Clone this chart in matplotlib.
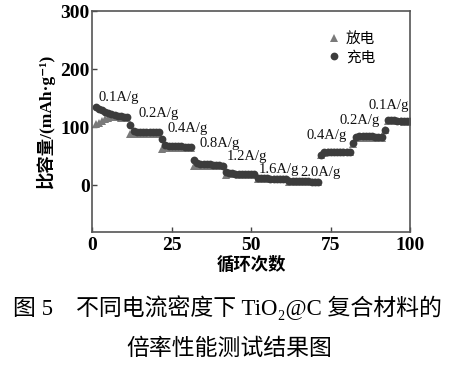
import numpy as np
import matplotlib
matplotlib.use('Agg')
from matplotlib import pyplot as plt

fams = ['Liberation Serif', 'Noto Sans CJK SC', 'DejaVu Sans']
plt.rcParams['font.family'] = fams

########
# DATA #
########

cycles = np.arange(1, 101)

# charge capacity (mAh/g), one list per current-density step
charge_segs = [
    [134, 132, 129, 126, 124, 122, 121, 120, 119, 118, 117],   # 0.1 A/g
    [103, 93, 92, 92, 91, 91, 91, 91, 91, 91],                 # 0.2
    [79, 69, 68, 68, 67, 67, 67, 66, 66, 66],                  # 0.4
    [44, 38, 37, 37, 36, 36, 35, 35, 35, 34],                  # 0.8
    [23, 21, 21, 20, 20, 20, 20, 19, 19, 19],                  # 1.2
    [13, 12, 12, 12, 11, 11, 11, 11, 11, 10],                  # 1.6
    [8, 8, 7, 7, 7, 7, 7, 6, 6, 6],                            # 2.0
    [53, 57, 58, 58, 58, 58, 58, 58, 58, 58],                  # 0.4
    [72, 83, 84, 84, 84, 84, 84, 83, 83, 83],                  # 0.2
    [96, 112, 112, 112, 111, 111, 111, 110, 110],              # 0.1
]
discharge_segs = [
    [106, 108, 111, 114, 116, 117, 117, 117, 116, 116, 116],
    [88, 89, 89, 89, 89, 89, 89, 89, 89, 89],
    [63, 65, 65, 65, 65, 64, 64, 64, 64, 64],
    [33, 34, 34, 34, 34, 33, 33, 33, 33, 33],
    [18, 19, 19, 19, 18, 18, 18, 18, 18, 18],
    [11, 11, 11, 11, 11, 10, 10, 10, 10, 10],
    [6, 6, 6, 6, 6, 6, 6, 5, 5, 5],
    [52, 56, 57, 57, 57, 57, 57, 57, 57, 57],
    [71, 82, 82, 82, 82, 82, 82, 82, 82, 82],
    [95, 110, 110, 110, 110, 110, 109, 109, 109],
]
charge = np.concatenate(charge_segs)
discharge = np.concatenate(discharge_segs)

rate_labels = ['0.1A/g', '0.2A/g', '0.4A/g', '0.8A/g', '1.2A/g',
               '1.6A/g', '2.0A/g', '0.4A/g', '0.2A/g', '0.1A/g']
label_x = [1.8, 14.5, 23.5, 33.6, 42.2, 52.2, 65.3, 67.5, 77.7, 87.0]
label_y = [152, 124, 98, 72, 50, 27, 22, 86, 111, 137]

########
# PLOT #
########

fig = plt.figure(figsize=(4.64, 3.69), dpi=100)
ax = fig.add_axes([0.199, 0.372, 0.685, 0.598])

ax.plot(cycles, discharge, '^', color='#7a7a7a', ms=5.6, mew=0, label='放电')
ax.plot(cycles, charge, 'o', color='#3c3c3c', ms=5.6, mew=0, label='充电')

for t, x, y in zip(rate_labels, label_x, label_y):
    ax.text(x, y, t, fontsize=10.5, ha='left', va='center', color='#111111')

ax.set_xlim(0, 100)
ax.set_ylim(-80, 300)
ax.set_xticks([0, 25, 50, 75, 100])
ax.set_yticks([0, 100, 200, 300])
ax.tick_params(direction='in', length=3.5, width=1, color='#444444',
               labelsize=14, pad=2, top=False, right=False)
ax.tick_params(axis='x', pad=4)
for lab in ax.get_xticklabels() + ax.get_yticklabels():
    lab.set_fontweight('bold')
for sp in ax.spines.values():
    sp.set_color('#555555')
    sp.set_linewidth(1.2)

ax.set_xlabel('循环次数', fontsize=12.5, fontweight='bold',
              family=['Noto Sans CJK SC'], labelpad=1)
ax.set_ylabel('比容量/(mAh·g⁻¹)', fontsize=12.5, fontweight='bold',
              family=fams, labelpad=4)

leg = ax.legend(loc='upper left', bbox_to_anchor=(0.69, 0.965), frameon=False,
                handletextpad=0.25, labelspacing=0.3, handlelength=1.2,
                prop={'family': ['Noto Sans CJK SC'], 'size': 10.5})

fig.text(0.49, 0.165, '图 5    不同电流密度下 TiO₂@C 复合材料的', ha='center',
         va='center', fontsize=16.5, family=fams)
fig.text(0.494, 0.057, '倍率性能测试结果图', ha='center', va='center',
         fontsize=16.5, family=['Noto Sans CJK SC'])

plt.savefig('out.png', dpi=100)
plt.close()
